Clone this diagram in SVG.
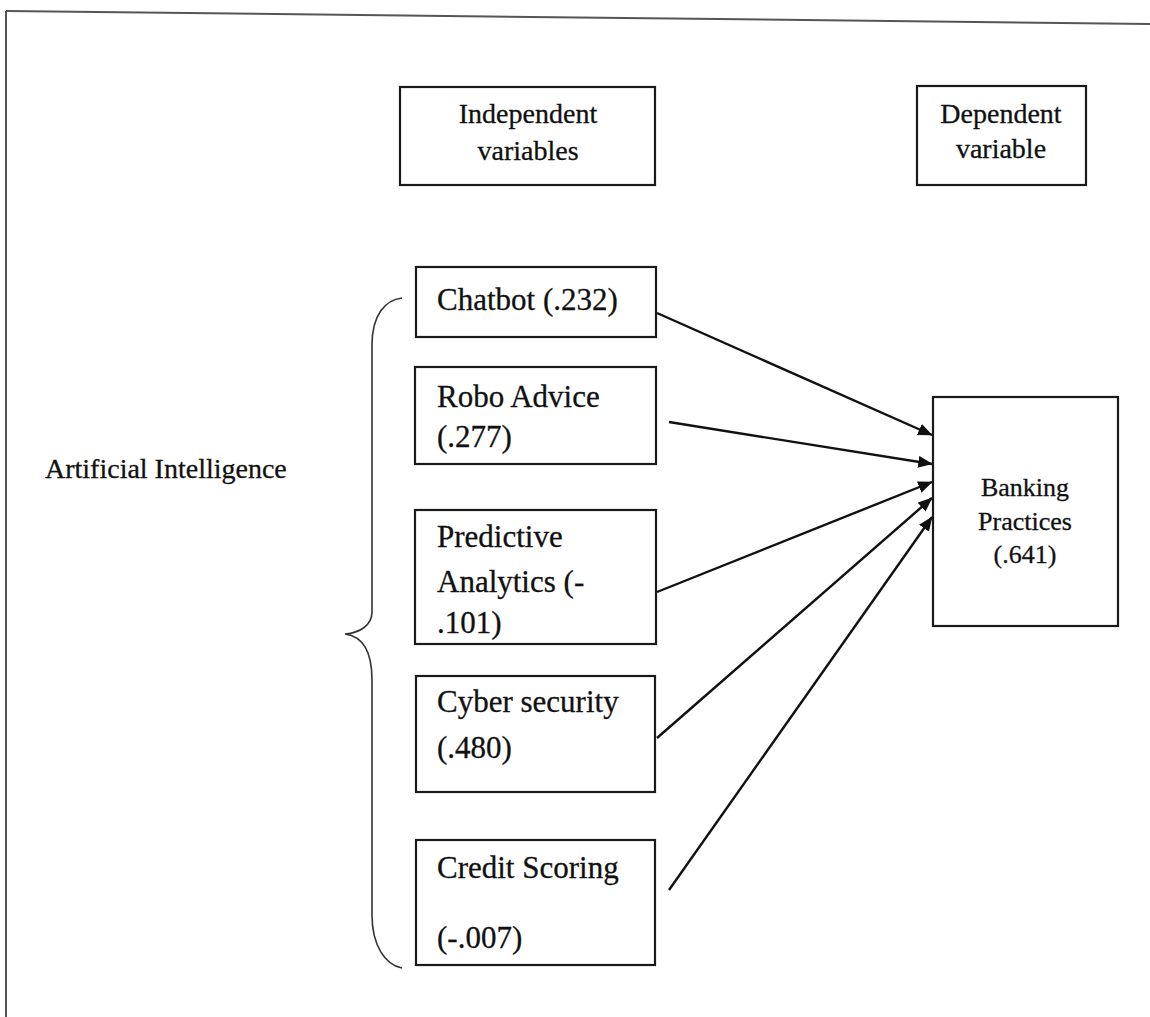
<svg xmlns="http://www.w3.org/2000/svg" width="1150" height="1017" viewBox="0 0 1150 1017">
<defs>
<style>
.box{fill:#fff;stroke:#1a1a1a;stroke-width:2.2}
.t{font-family:"Liberation Serif","Times New Roman",serif;fill:#111;stroke:#111;stroke-width:0.3}
.lg{font-size:31px}
.hd{font-size:28px;text-anchor:middle}
.bp{font-size:26px;text-anchor:middle}
.ai{font-size:28px}
.conn line{stroke:#111;stroke-width:2.4;marker-end:url(#ah)}
</style>
<marker id="ah" viewBox="0 0 12 10" refX="11.5" refY="5" markerWidth="6" markerHeight="5" orient="auto" markerUnits="strokeWidth">
<path d="M0,0 L12,5 L0,10 z" fill="#111"/>
</marker>
</defs>
<rect width="1150" height="1017" fill="#fff"/>
<g id="frame" stroke="#555" stroke-width="2" fill="none">
<line x1="6" y1="11" x2="1150" y2="24"/>
<line x1="6" y1="11" x2="6" y2="1017"/>
</g>
<g id="independent-header">
<rect class="box" x="400" y="87" width="255" height="98"/>
<text class="t hd" x="528" y="123">Independent</text>
<text class="t hd" x="528" y="160">variables</text>
</g>
<g id="dependent-header">
<rect class="box" x="917" y="86" width="169" height="99"/>
<text class="t hd" x="1001" y="123">Dependent</text>
<text class="t hd" x="1001" y="158">variable</text>
</g>
<g id="ai-label">
<text class="t ai" x="45" y="478">Artificial Intelligence</text>
<path d="M402,298 C385,300 372,315 372,345 L372,612 C372,625 360,633 345,634 C360,636 372,648 372,680 L372,915 C372,945 385,965 402,968" fill="none" stroke="#333" stroke-width="1.6"/>
</g>
<g id="chatbot">
<rect class="box" x="416" y="267" width="240" height="70"/>
<text class="t lg" x="437" y="310">Chatbot (.232)</text>
</g>
<g id="robo-advice">
<rect class="box" x="415" y="367" width="241" height="97"/>
<text class="t lg" x="437" y="407">Robo Advice</text>
<text class="t lg" x="437" y="447">(.277)</text>
</g>
<g id="predictive-analytics">
<rect class="box" x="415" y="510" width="241" height="134"/>
<text class="t lg" x="437" y="547">Predictive</text>
<text class="t lg" x="437" y="592">Analytics (-</text>
<text class="t lg" x="437" y="633">.101)</text>
</g>
<g id="cyber-security">
<rect class="box" x="416" y="676" width="239" height="116"/>
<text class="t lg" x="437" y="712">Cyber security</text>
<text class="t lg" x="437" y="758">(.480)</text>
</g>
<g id="credit-scoring">
<rect class="box" x="416" y="840" width="239" height="125"/>
<text class="t lg" x="437" y="878">Credit Scoring</text>
<text class="t lg" x="437" y="948">(-.007)</text>
</g>
<g id="banking-practices">
<rect class="box" x="933" y="397" width="185" height="229"/>
<text class="t bp" x="1025" y="496">Banking</text>
<text class="t bp" x="1025" y="530">Practices</text>
<text class="t bp" x="1025" y="563">(.641)</text>
</g>
<g id="connectors" class="conn">
<line x1="657" y1="313" x2="932" y2="435"/>
<line x1="669" y1="422" x2="932" y2="464"/>
<line x1="657" y1="592" x2="932" y2="482"/>
<line x1="657" y1="738" x2="932" y2="498"/>
<line x1="669" y1="890" x2="932" y2="517"/>
</g>
</svg>
